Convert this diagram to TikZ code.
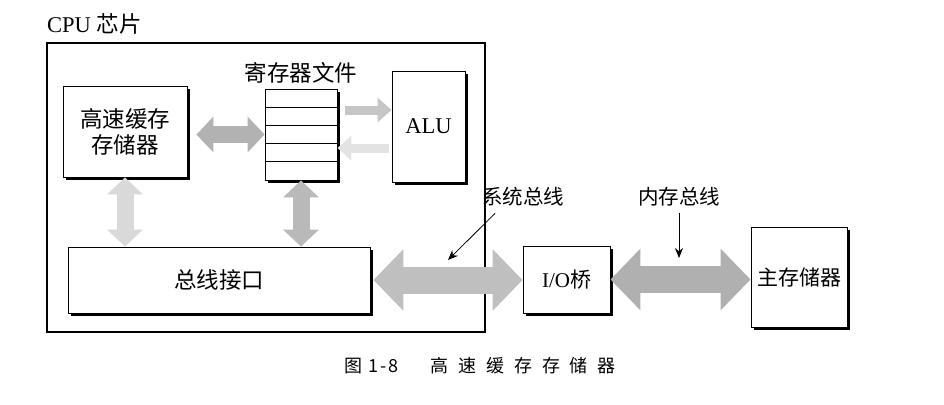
\documentclass[tikz,border=0pt]{standalone}
\usepackage{fontspec}
\setmainfont{Liberation Serif}
\newfontfamily\cjk{Noto Sans CJK SC}
\newfontfamily\capfont[LetterSpace=55]{Noto Sans CJK SC}
\usetikzlibrary{arrows.meta,shadows,positioning}

\newcommand{\lblfont}{\fontsize{22.5}{26}\selectfont}
\newcommand{\busfont}{\fontsize{20.5}{24}\selectfont}

\tikzset{
  box/.style={draw, line width=0.9pt, fill=white, inner sep=0pt,
    drop shadow={shadow xshift=2.5pt, shadow yshift=-2.5pt, fill=black, opacity=1}},
  lbl/.style={font=\lblfont, inner sep=0.75pt},
  cjklbl/.style={font=\lblfont\cjk, inner sep=0.75pt, align=center},
  buslbl/.style={font=\busfont\cjk, inner sep=0.75pt},
  bus/.style={line width=27pt, {Triangle[length=30pt,width=60pt]}-{Triangle[length=30pt,width=60pt]}},
  link/.style={line width=17pt, {Triangle[length=17pt,width=35pt]}-{Triangle[length=17pt,width=35pt]}},
  feed/.style={line width=9pt, -{Triangle[length=14pt,width=24pt]}},
  pointer/.style={line width=0.8pt, -{Stealth[length=10pt,width=8pt]}},
}

\begin{document}
\begin{tikzpicture}[x=1pt,y=-1pt]
\useasboundingbox (0,0) rectangle (944,404);

% cpu chip
\node [draw, line width=2.5pt, minimum width=438pt, minimum height=289pt] (cpu) at (266,187.5) {};
\node [lbl, anchor=base west, inner sep=0pt] (cpul) at (47,33) {CPU {\cjk 芯片}};

% blocks inside the chip
\node [box, cjklbl, minimum width=124pt, minimum height=91pt] (cache) at (125,131.5) {高速缓存\\存储器};
\node [box, minimum width=72pt, minimum height=91pt] (regs) at (301,134.5) {};
\foreach \i in {1,...,4}
  \draw ([yshift=-\i*18.2pt]regs.north west) -- ([yshift=-\i*18.2pt]regs.north east);
\node [cjklbl, above=4pt of regs] (regsl) {寄存器文件};
\node [box, lbl, minimum width=73pt, minimum height=111pt] (alu) at (428.5,126.5) {ALU};
\node [box, cjklbl, minimum width=302pt, minimum height=66pt] (bif) at (219,280) {总线接口};

% outside the chip
\node [box, lbl, font=\fontsize{21}{24}\selectfont, minimum width=87pt, minimum height=67pt] (io) at (566.5,279.5) {I/O{\cjk 桥}};
\node [box, cjklbl, font=\fontsize{21}{24}\selectfont\cjk, minimum width=96pt, minimum height=100pt] (mem) at (799,277) {主存储器};

% paths between blocks
\draw [link, gray!60, shorten <=9pt] (cache.east |- regs.west) -- (regs.west);
\draw [link, gray!30] (cache.south) -- (cache.south |- bif.north);
\draw [link, gray!55] (regs.south) -- (regs.south |- bif.north);
\draw [feed, gray!45, shorten <=8pt] (regs.east |- 0,110) -- (alu.west |- 0,110);
\draw [feed, gray!22, shorten <=3pt] (alu.west |- 0,148) -- (regs.east |- 0,148);
\draw [bus, gray!50, shorten <=3pt] (bif.east) -- (io.west |- bif.east);
\draw [bus, gray!62] (io.east) -- (mem.west |- io.east);

% bus labels
\node [buslbl] (sysl) at (523,197) {系统总线};
\node [buslbl] (meml) at (679,197) {内存总线};
\coordinate (sysp) at (448,260);
\coordinate (memp) at (679,258);
\draw [pointer] ([shift={(14pt,-6pt)}]sysl.south west) -- (sysp);
\draw [pointer] ([yshift=-6pt]meml.south) -- (memp);

% caption
\node [font=\fontsize{18}{21}\selectfont\cjk, inner sep=0pt] (cap) at (480,366) {图\hspace{6pt}1\hspace{2pt}-\hspace{2pt}8\hspace{32pt}{\capfont 高速缓存存储器}};
\end{tikzpicture}
\end{document}
